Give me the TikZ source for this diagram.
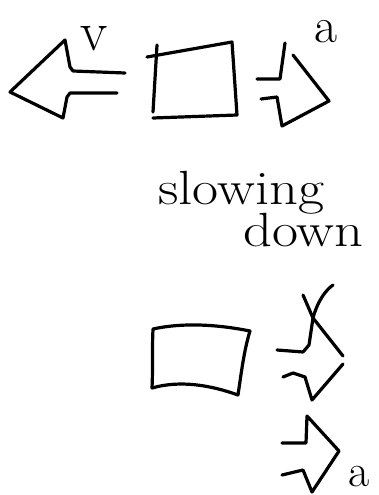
\documentclass[tikz,border=0pt]{standalone}
\begin{document}
\begin{tikzpicture}[x=1pt,y=-1pt,
  ink/.style={line width=3.2pt,line cap=round,line join=round,black},
  lbl/.style={inner sep=0pt,black}]
\useasboundingbox (0,0) rectangle (378,495);
% left arrow
\draw[ink] (125,73) -- (73,71) -- (70,67) -- (65,40) -- (10,92) -- (63,118) -- (67,97) -- (70,93) -- (117,93);
\node[lbl,font=\fontsize{56}{56}\selectfont] (v1) at (94,39) {v};
% top box
\draw[ink] (147,57) -- (232,42) -- (237,115) -- (153,118);
\draw[ink] (157,45) -- (153,112);
% right arrow
\draw[ink] (257,79) -- (280,79) -- (285,43);
\draw[ink] (293,55) -- (329,101) -- (282,126) -- (277,97) -- (261,99);
\node[lbl,font=\fontsize{50}{50}\selectfont] (a1) at (326,32) {a};
% text
\node[lbl,font=\fontsize{48}{48}\selectfont,anchor=base west] (t1) at (158,204) {\scalebox{1.18}[1]{slowing}};
\node[lbl,font=\fontsize{48}{48}\selectfont,anchor=base west] (t2) at (243,246) {\scalebox{1.18}[1]{down}};
% bottom box
\draw[ink] (153,329) .. controls (185,322) and (220,325) .. (250,331)
  .. controls (244,350) and (241,375) .. (238,395)
  .. controls (210,385) and (180,380) .. (152,388)
  .. controls (153,368) and (152,350) .. (153,329) -- cycle;
% crossed arrow
\draw[ink] (277,350) -- (303,352) -- (309,345) -- (313,318) .. controls (318,300) and (326,290) .. (333,285);
\draw[ink] (303,295) -- (313,318) -- (343,356);
\draw[ink] (283,377) -- (293,373) -- (305,377) -- (312,400) -- (343,364);
% lower arrow
\draw[ink] (282,443) -- (306,443) -- (307,416) -- (339,451) -- (312,492) -- (303,470) -- (282,475);
\node[lbl,font=\fontsize{46}{46}\selectfont] (a2) at (359,477) {a};
\end{tikzpicture}
\end{document}
